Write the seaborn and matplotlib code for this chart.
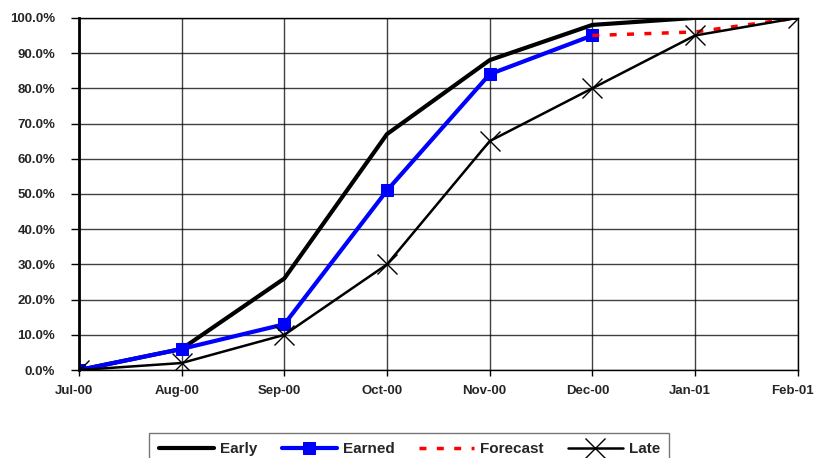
import pandas as pd
import matplotlib.pyplot as plt
import matplotlib.transforms as mtransforms
import seaborn as sns
from matplotlib.ticker import PercentFormatter

sns.set_style('white')
plt.rcParams['font.family'] = ['Liberation Sans', 'DejaVu Sans']

# data
months = ['Jul-00', 'Aug-00', 'Sep-00', 'Oct-00', 'Nov-00', 'Dec-00', 'Jan-01', 'Feb-01']
early = [0, 6, 26, 67, 88, 98, 100, 100]
earned = [0, 6, 13, 51, 84, 95]
forecast_months = ['Dec-00', 'Jan-01', 'Feb-01']
forecast = [95, 96, 100]
late = [0, 2, 10, 30, 65, 80, 95, 100]

pos = {m: i for i, m in enumerate(months)}

df_early = pd.DataFrame({'x': [pos[m] for m in months], 'y': early})
df_earned = pd.DataFrame({'x': [pos[m] for m in months[:len(earned)]], 'y': earned})
df_fc = pd.DataFrame({'x': [pos[m] for m in forecast_months], 'y': forecast})
df_late = pd.DataFrame({'x': [pos[m] for m in months], 'y': late})

fig = plt.figure(figsize=(8.14, 4.58), dpi=100)
ax = fig.add_axes([0.097, 0.192, 0.883, 0.769])

sns.lineplot(data=df_early, x='x', y='y', ax=ax, color='black', linewidth=3, label='Early')
sns.lineplot(data=df_earned, x='x', y='y', ax=ax, color='#0000ff', linewidth=3,
             marker='s', markersize=8, markeredgecolor='#0000ff', label='Earned')
sns.lineplot(data=df_fc, x='x', y='y', ax=ax, color='#ff0000', linewidth=2.5,
             linestyle=(0, (2, 3)), label='Forecast')
sns.lineplot(data=df_late, x='x', y='y', ax=ax, color='black', linewidth=1.8,
             marker='x', markersize=14, markeredgewidth=1, markeredgecolor='black', label='Late')

ax.set_xlim(0, len(months) - 1)
ax.set_ylim(0, 100)
ax.set_xticks(range(len(months)))
ax.set_xticklabels(months)
ax.set_yticks(range(0, 101, 10))
ax.yaxis.set_major_formatter(PercentFormatter(decimals=1))
ax.set_xlabel('')
ax.set_ylabel('')

ax.grid(True, color='black', linewidth=1, alpha=0.75)
ax.set_axisbelow(True)
for s in ax.spines.values():
    s.set_color('black')
    s.set_linewidth(1)
ax.spines['left'].set_linewidth(2)

ax.tick_params(axis='y', length=6, width=1, color='black', direction='out', left=True, pad=11)
ax.tick_params(axis='x', length=4, width=1, color='black', direction='out', bottom=True, pad=7)
shift = mtransforms.ScaledTranslation(-5 / 100, 0, fig.dpi_scale_trans)
for lbl in ax.get_yticklabels():
    lbl.set_fontweight('bold')
    lbl.set_fontsize(9.5)
for lbl in ax.get_xticklabels():
    lbl.set_fontweight('bold')
    lbl.set_fontsize(9.5)
    lbl.set_transform(lbl.get_transform() + shift)

handles, labels = ax.get_legend_handles_labels()
ax.legend_.remove()
leg = fig.legend(handles, labels, loc='upper center', bbox_to_anchor=(0.503, 0.055),
                 ncol=4, frameon=True, fancybox=False, handlelength=3.6, handletextpad=0.4,
                 columnspacing=1.6, borderpad=0.6, borderaxespad=0,
                 prop={'weight': 'bold', 'size': 11})
leg.get_frame().set_edgecolor('#555555')
leg.get_frame().set_linewidth(1)

fig.savefig('out.png', dpi=100)
